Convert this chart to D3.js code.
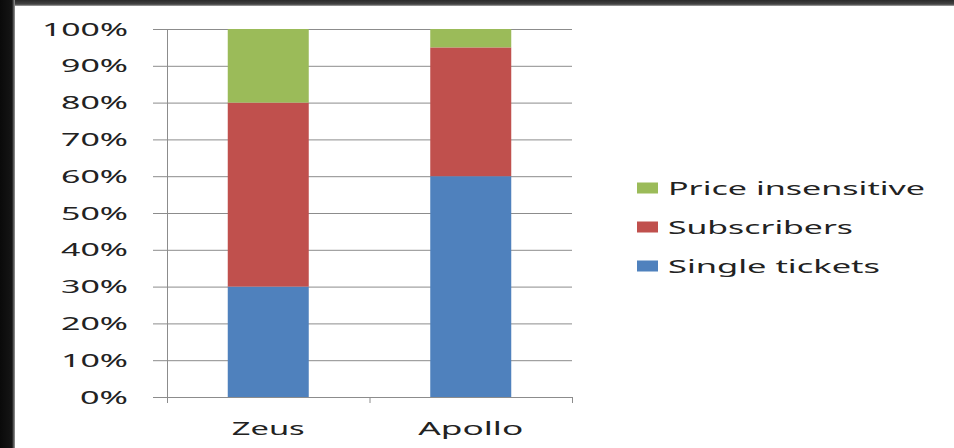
<!DOCTYPE html>
<html>
<head>
<meta charset="utf-8">
<script src="https://cdn.jsdelivr.net/npm/d3@7"></script>
<style>
  html, body { margin: 0; padding: 0; background: #fff; }
  svg { display: block; }
  text { font-family: "Noto Sans", "DejaVu Sans", sans-serif; fill: #222; }
</style>
</head>
<body>
<svg id="chart" width="954" height="448"></svg>
<script>
// Chart data
const categories = ["Zeus", "Apollo"];
const seriesNames = ["Single tickets", "Subscribers", "Price insensitive"];
const singleTickets = [30, 60];
const subscribers = [50, 35];
const priceInsensitive = [20, 5];
const tickValues = [0, 10, 20, 30, 40, 50, 60, 70, 80, 90, 100];
const tickLabels = ["0%", "10%", "20%", "30%", "40%", "50%", "60%", "70%", "80%", "90%", "100%"];

const colors = { "Single tickets": "#4f81bd", "Subscribers": "#c0504d", "Price insensitive": "#9bbb59" };

const svg = d3.select("#chart");

// Dark frame along the top and left edges
const defs = svg.append("defs");
const gTop = defs.append("linearGradient").attr("id", "topFade").attr("x1", 0).attr("y1", 0).attr("x2", 0).attr("y2", 1);
gTop.append("stop").attr("offset", "0%").attr("stop-color", "#2a2a2a");
gTop.append("stop").attr("offset", "70%").attr("stop-color", "#444");
gTop.append("stop").attr("offset", "100%").attr("stop-color", "#aaa");
svg.append("rect").attr("x", 0).attr("y", 0).attr("width", 954).attr("height", 6).attr("fill", "url(#topFade)");
const gLeft = defs.append("linearGradient").attr("id", "leftFade").attr("x1", 0).attr("y1", 0).attr("x2", 1).attr("y2", 0);
gLeft.append("stop").attr("offset", "0%").attr("stop-color", "#0a0a0a");
gLeft.append("stop").attr("offset", "80%").attr("stop-color", "#151515");
gLeft.append("stop").attr("offset", "100%").attr("stop-color", "#9a9a9a");
svg.append("rect").attr("x", 0).attr("y", 0).attr("width", 15).attr("height", 448).attr("fill", "url(#leftFade)");

// Scales
const x = d3.scaleBand().domain(categories).range([167, 572]).paddingInner(0.6).paddingOuter(0.3);
const y = d3.scaleLinear().domain([0, 100]).range([397, 29]);

// Horizontal gridlines and y ticks
const gridColor = "#8c8c8c";
svg.append("g").selectAll("line").data(tickValues).join("line")
  .attr("x1", 153).attr("x2", 572)
  .attr("y1", d => y(d) + 0.5).attr("y2", d => y(d) + 0.5)
  .attr("stroke", gridColor).attr("stroke-width", 1);

// Vertical axis line
svg.append("line").attr("x1", 167.5).attr("x2", 167.5).attr("y1", y(100)).attr("y2", y(0) + 6)
  .attr("stroke", gridColor);

// Category boundary ticks below the axis
const boundaries = [167, 167 + (572 - 167) / 2, 572];
svg.append("g").selectAll("line").data(boundaries).join("line")
  .attr("x1", d => d + 0.5).attr("x2", d => d + 0.5)
  .attr("y1", y(0)).attr("y2", y(0) + 6)
  .attr("stroke", gridColor);

// Y tick labels (stretched horizontally to the chart's wide lettering)
const yLabelWidths = { "100%": 86, "90%": 67, "80%": 67, "70%": 67, "60%": 67, "50%": 67, "40%": 67, "30%": 67, "20%": 67, "10%": 67, "0%": 48 };
svg.append("g").selectAll("text").data(tickValues).join("text")
  .attr("x", 128).attr("y", d => y(d) + 6.5)
  .attr("text-anchor", "end")
  .attr("font-size", 18)
  .attr("textLength", (d, i) => yLabelWidths[tickLabels[i]])
  .attr("lengthAdjust", "spacingAndGlyphs")
  .text((d, i) => tickLabels[i]);

// Stacked bars
const rows = categories.map((c, i) => ({
  category: c,
  "Single tickets": singleTickets[i],
  "Subscribers": subscribers[i],
  "Price insensitive": priceInsensitive[i]
}));
const stack = d3.stack().keys(seriesNames)(rows);
svg.append("g").selectAll("g").data(stack).join("g")
  .attr("fill", d => colors[d.key])
  .selectAll("rect").data(d => d).join("rect")
  .attr("x", d => x(d.data.category))
  .attr("width", x.bandwidth())
  .attr("y", d => y(d[1]))
  .attr("height", d => y(d[0]) - y(d[1]));

// Category labels
const catWidths = { "Zeus": 73, "Apollo": 105 };
svg.append("g").selectAll("text").data(categories).join("text")
  .attr("x", d => x(d) + x.bandwidth() / 2 - catWidths[d] / 2)
  .attr("y", 435)
  .attr("font-size", 18)
  .attr("textLength", d => catWidths[d])
  .attr("lengthAdjust", "spacingAndGlyphs")
  .text(d => d);

// Legend (top entry is the top of the stack)
const legendItems = seriesNames.slice().reverse();
const legendWidths = { "Price insensitive": 257, "Subscribers": 185, "Single tickets": 212 };
const legend = svg.append("g").selectAll("g").data(legendItems).join("g")
  .attr("transform", (d, i) => `translate(0, ${188 + i * 39})`);
legend.append("rect").attr("x", 637).attr("y", -5.5).attr("width", 21).attr("height", 11)
  .attr("fill", d => colors[d]);
legend.append("text").attr("x", 668).attr("y", 7)
  .attr("font-size", 18)
  .attr("textLength", d => legendWidths[d])
  .attr("lengthAdjust", "spacingAndGlyphs")
  .text(d => d);
</script>
</body>
</html>
